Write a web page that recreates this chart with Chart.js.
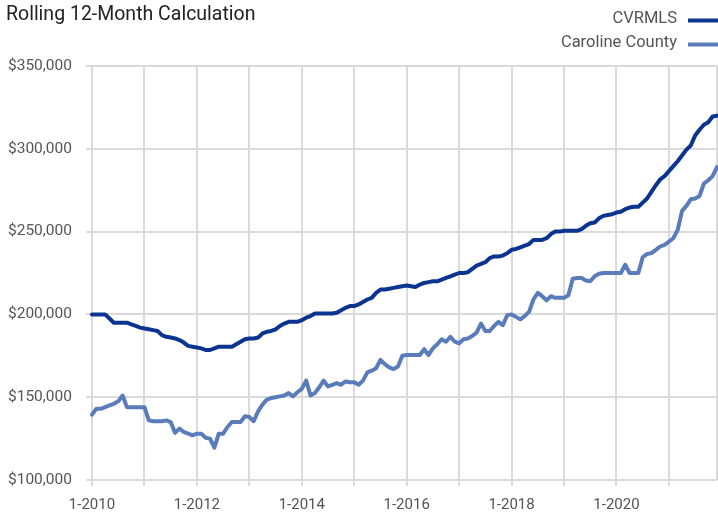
<!DOCTYPE html>
<html>
<head>
<meta charset="utf-8">
<script src="https://cdn.jsdelivr.net/npm/chart.js@4/dist/chart.umd.min.js"></script>
<style>
  html, body { margin: 0; padding: 0; background: #fff; }
  #wrap { width: 718px; height: 515px; position: relative; }
</style>
</head>
<body>
<div id="wrap"><canvas id="grafico"></canvas></div>
<script>
// Rolling 12-month median price, monthly points Jan 2010 - Dec 2021
const years = [2010, 2011, 2012, 2013, 2014, 2015, 2016, 2017, 2018, 2019, 2020, 2021];
const seriesNames = ['CVRMLS', 'Caroline County'];
const yTicks = [100000, 150000, 200000, 250000, 300000, 350000];

const cvrmls = [
    200000, 200000, 200000, 200000, 197500, 195000, 195000, 195000, 195000, 194000, 193000, 192000,
    191500, 191000, 190500, 190000, 187500, 186500, 186000, 185500, 184500, 183000, 181000, 180500,
    180000, 179500, 178500, 178500, 179500, 180500, 180500, 180500, 180500, 182000, 183500, 185000,
    185500, 185500, 186000, 188500, 189500, 190000, 191000, 193000, 194500, 195500, 195500, 195500,
    196500, 198000, 199000, 200500, 200500, 200500, 200500, 200500, 201000, 202500, 204000, 205000,
    205000, 206000, 207500, 209000, 210000, 213000, 215000, 215000, 215500, 216000, 216500, 217000,
    217500, 217000, 216500, 218000, 219000, 219500, 220000, 220000, 221000, 222000, 223000, 224000,
    225000, 225000, 225500, 227500, 229500, 230500, 231500, 234000, 235000, 235000, 235500, 237000,
    239000, 239500, 240500, 241500, 242500, 245000, 245000, 245000, 246000, 248500, 250000, 250000,
    250500, 250500, 250500, 250500, 251500, 253500, 255000, 255500, 258000, 259500, 260000, 260500,
    261500, 262000, 263500, 264500, 265000, 265000, 267500, 270000, 274000, 278000, 281500, 283500,
    286500, 289500, 292500, 296000, 299500, 302000, 308000, 311500, 314500, 316000, 319500, 320000
];

const caroline = [
    139500, 143000, 143000, 144000, 145000, 146000, 147500, 151000, 144000, 144000, 144000, 144000,
    144000, 136000, 135500, 135500, 135500, 136000, 135000, 128500, 131000, 129000, 128000, 127000,
    128000, 128000, 125500, 125000, 119500, 128000, 128000, 132000, 135000, 135000, 135000, 138500,
    138000, 135500, 141500, 145500, 148500, 149500, 150000, 150500, 151000, 152500, 150500, 153000,
    155000, 160000, 151000, 152500, 156000, 160000, 156500, 157500, 158500, 157500, 159500, 159000,
    159000, 157500, 160000, 165000, 166000, 167500, 172500, 170000, 168000, 167000, 168500, 175000,
    175500, 175500, 175500, 175500, 179000, 175500, 179500, 182000, 185000, 183500, 186500, 183500,
    182500, 185000, 185500, 187000, 189000, 194500, 190000, 190000, 193000, 195500, 193500, 199500,
    200000, 198500, 197000, 199000, 201500, 209000, 213000, 211000, 208500, 211000, 210000, 210000,
    210000, 211500, 221500, 222000, 222000, 220500, 220000, 223000, 224500, 225000, 225000, 225000,
    225000, 225000, 230000, 225000, 225000, 225000, 234500, 236500, 237000, 239000, 241000, 242000,
    244000, 246000, 251000, 262500, 265500, 269500, 270000, 271500, 279000, 281000, 283500, 289000
];

const cores = ['#0a3490', '#5b7cba'];
const fonte = "Roboto, 'Liberation Sans', sans-serif";

// month labels "m-yyyy"
const meses = [];
years.forEach(ano => {
    for (let m = 1; m <= 12; m++) {
        meses.push(m + '-' + ano);
    }
});

// title and legend drawn in the free band above the plot
const cabecalho = {
    id: 'cabecalho',
    afterDraw(chart) {
        const ctx = chart.ctx;
        ctx.save();
        ctx.fillStyle = '#222222';
        ctx.font = '19.5px ' + fonte;
        ctx.textAlign = 'left';
        ctx.textBaseline = 'alphabetic';
        ctx.fillText('Rolling 12-Month Calculation', 6, 20);

        ctx.font = '16.5px ' + fonte;
        ctx.textAlign = 'right';
        ctx.textBaseline = 'middle';
        const linhas = [19, 43];
        seriesNames.forEach((nome, i) => {
            ctx.fillStyle = '#555555';
            ctx.fillText(nome, 677, linhas[i]);
            ctx.strokeStyle = cores[i];
            ctx.lineWidth = 4;
            ctx.beginPath();
            ctx.moveTo(688, linhas[i] + 1.5);
            ctx.lineTo(718, linhas[i] + 1.5);
            ctx.stroke();
        });
        ctx.restore();
    }
};

new Chart(document.getElementById('grafico'), {
    type: 'line',
    data: {
        labels: meses,
        datasets: [{
            label: seriesNames[0],
            data: cvrmls,
            borderColor: cores[0],
            borderWidth: 4,
        }, {
            label: seriesNames[1],
            data: caroline,
            borderColor: cores[1],
            borderWidth: 4,
        }],
    },
    options: {
        responsive: true,
        maintainAspectRatio: false,
        animation: false,
        layout: {
            padding: { top: 66, right: 1, left: 0, bottom: 0 }
        },
        elements: {
            point: { radius: 0 },
            line: { tension: 0, borderJoinStyle: 'round', borderCapStyle: 'round' }
        },
        scales: {
            x: {
                ticks: {
                    autoSkip: false,
                    maxRotation: 0,
                    minRotation: 0,
                    padding: 10,
                    color: '#555555',
                    font: { family: fonte, size: 15 },
                    callback: function(value, index) {
                        return index % 24 === 0 ? meses[index] : '';
                    }
                },
                grid: {
                    lineWidth: 2,
                    tickLength: 6,
                    color: function(c) {
                        return (c.index % 12 === 0 || c.index === meses.length - 1) ? '#dadada' : 'rgba(0,0,0,0)';
                    },
                    tickColor: function(c) {
                        return c.index % 12 === 0 ? '#dadada' : 'rgba(0,0,0,0)';
                    }
                },
                border: { display: false },
                afterFit: function(scale) {
                    scale.height = 35;
                    scale.paddingRight = 0;
                    scale.paddingLeft = 0;
                }
            },
            y: {
                min: yTicks[0],
                max: yTicks[yTicks.length - 1],
                afterBuildTicks: function(scale) {
                    scale.ticks = yTicks.map(v => ({ value: v }));
                },
                ticks: {
                    padding: 14,
                    color: '#555555',
                    font: { family: fonte, size: 15.5 },
                    callback: function(value) {
                        return '$' + value.toLocaleString('en-US');
                    }
                },
                grid: {
                    lineWidth: 2,
                    tickLength: 6,
                    color: '#dadada'
                },
                border: { display: false },
                afterFit: function(scale) {
                    scale.width = 92;
                }
            }
        },
        plugins: {
            legend: { display: false },
            tooltip: { enabled: false }
        }
    },
    plugins: [cabecalho]
});
</script>
</body>
</html>
